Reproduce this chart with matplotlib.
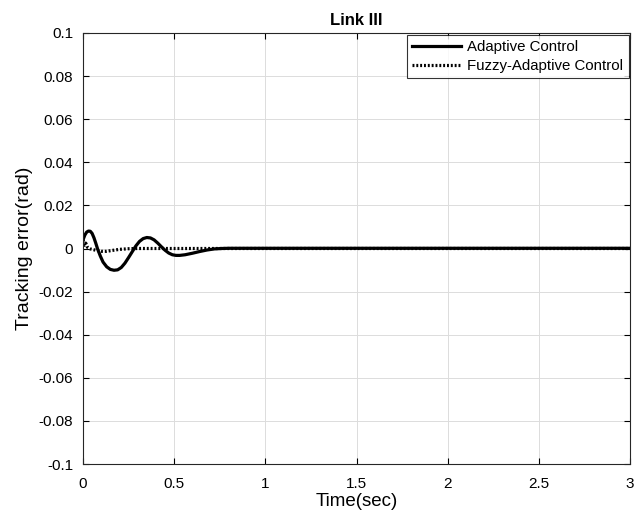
import matplotlib
matplotlib.use("Agg")
import matplotlib.pyplot as plt

plt.rcParams['font.family'] = ['Liberation Sans', 'DejaVu Sans']

# Adaptive Control tracking error
t_adaptive = [0.000, 0.010, 0.020, 0.030, 0.040, 0.050, 0.060, 0.070, 0.080, 0.095,
              0.110, 0.130, 0.150, 0.170, 0.190, 0.210, 0.230, 0.250, 0.270, 0.290,
              0.310, 0.330, 0.350, 0.370, 0.390, 0.410, 0.430, 0.450, 0.470, 0.490,
              0.510, 0.530, 0.560, 0.600, 0.640, 0.680, 0.720, 0.760, 0.800, 1.000, 3.000]
e_adaptive = [0.0040, 0.0062, 0.0076, 0.0081, 0.0080, 0.0070, 0.0050, 0.0025, -0.0002, -0.0035,
              -0.0063, -0.0085, -0.0097, -0.0101, -0.0099, -0.0088, -0.0068, -0.0042, -0.0015, 0.0012,
              0.0033, 0.0046, 0.0051, 0.0049, 0.0040, 0.0025, 0.0008, -0.0008, -0.0021, -0.0029,
              -0.0032, -0.0032, -0.0029, -0.0022, -0.0014, -0.0007, -0.0002, 0.0000, 0.0001, 0.0001, 0.0001]

# Fuzzy-Adaptive Control tracking error
t_fuzzy = [0.000, 0.008, 0.015, 0.025, 0.040, 0.070, 0.100, 0.130, 0.160, 0.200, 0.250, 0.300, 3.000]
e_fuzzy = [0.0040, 0.0015, 0.0025, 0.0005, -0.0002, -0.0008, -0.0013, -0.0013, -0.0009, -0.0004, -0.0001, 0.0000, 0.0000]

x_ticks = [0, 0.5, 1, 1.5, 2, 2.5, 3]
x_tick_labels = ['0', '0.5', '1', '1.5', '2', '2.5', '3']
y_ticks = [-0.1, -0.08, -0.06, -0.04, -0.02, 0, 0.02, 0.04, 0.06, 0.08, 0.1]
y_tick_labels = ['-0.1', '-0.08', '-0.06', '-0.04', '-0.02', '0', '0.02', '0.04', '0.06', '0.08', '0.1']

fig = plt.figure(figsize=(6.42, 5.17), dpi=100)
ax = fig.add_axes([83/642, 53/517, 547/642, 431/517])

ax.plot(t_adaptive, e_adaptive, color='black', lw=2.3, label='Adaptive Control')
ax.plot(t_fuzzy, e_fuzzy, color='black', lw=2.3, linestyle=(0, (0.6, 0.6)), label='Fuzzy-Adaptive Control')

ax.set_xlim(0, 3)
ax.set_ylim(-0.1, 0.1)
ax.set_xticks(x_ticks)
ax.set_xticklabels(x_tick_labels)
ax.set_yticks(y_ticks)
ax.set_yticklabels(y_tick_labels)
ax.tick_params(direction='in', top=True, right=True, labelsize=11, length=4, width=0.8, pad=7)
ax.tick_params(axis='x', pad=9)
ax.grid(True, color='#dcdcdc', lw=0.7)
ax.set_axisbelow(True)
for s in ax.spines.values():
    s.set_linewidth(0.8)
    s.set_color('#262626')

ax.set_xlabel('Time(sec)', fontsize=13.5, labelpad=2)
ax.set_ylabel('Tracking error(rad)', fontsize=14, labelpad=4)
ax.set_title('Link III', fontsize=12, fontweight='bold', pad=6)

leg = ax.legend(loc='upper right', fontsize=10.8, frameon=True, fancybox=False,
                edgecolor='black', borderaxespad=0.1, handlelength=3.3,
                borderpad=0.35, labelspacing=0.35, handletextpad=0.4)
leg.get_frame().set_linewidth(0.8)

fig.savefig('out.png', dpi=100)
